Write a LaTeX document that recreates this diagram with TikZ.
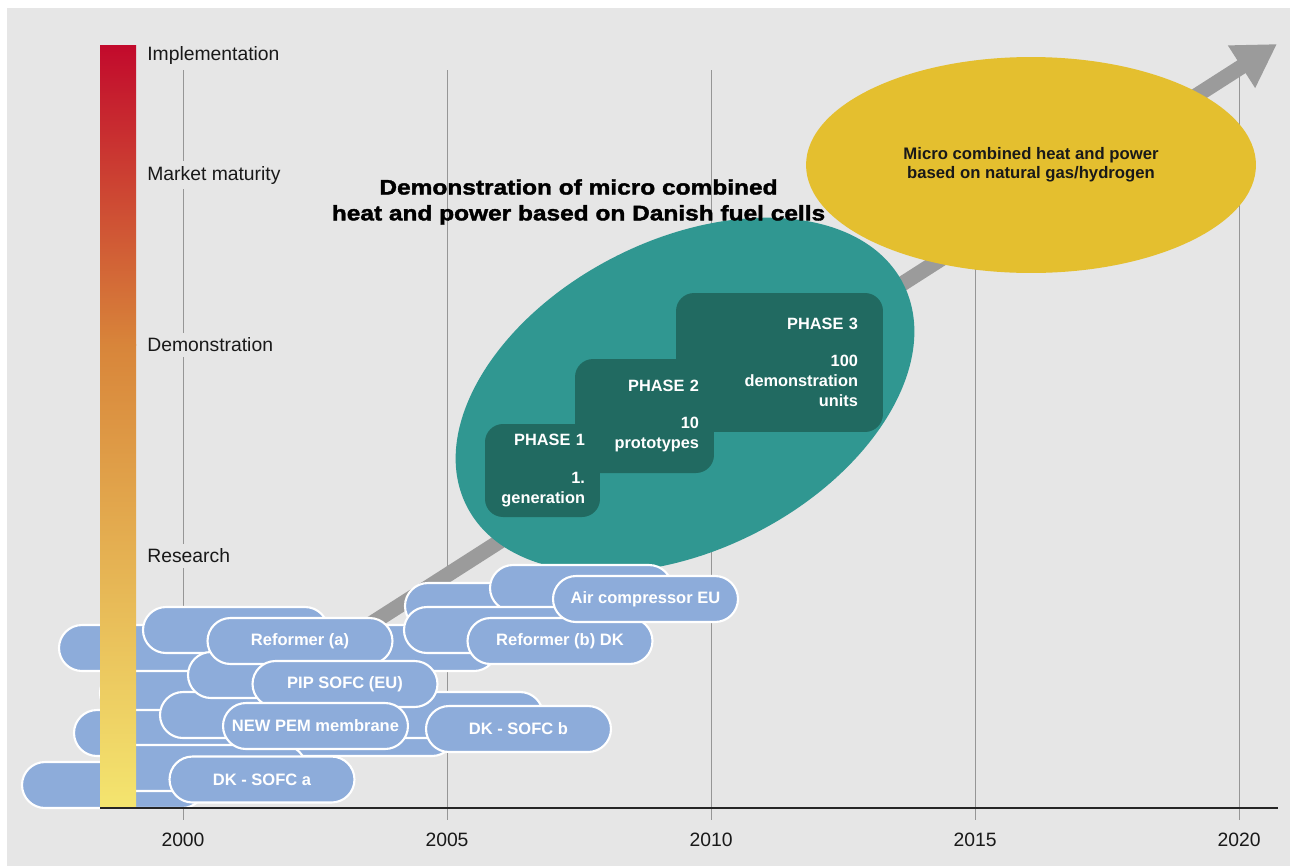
\documentclass[tikz,border=0pt]{standalone}
\usepackage{fontspec}
\setmainfont{Liberation Sans}
\newfontfamily\titlefont[FakeStretch=1.16, FakeBold=1.8]{Liberation Sans}
\usetikzlibrary{shapes.geometric,arrows.meta}

\definecolor{bggrey}{RGB}{230,230,230}
\definecolor{gridgrey}{RGB}{150,150,150}
\definecolor{arrowgrey}{RGB}{155,155,155}
\definecolor{pillblue}{RGB}{141,172,218}
\definecolor{demoteal}{RGB}{48,151,145}
\definecolor{phaseteal}{RGB}{33,106,97}
\definecolor{mchpyellow}{RGB}{228,191,47}
\definecolor{barred}{RGB}{194,10,44}
\definecolor{barrust}{RGB}{201,68,48}
\definecolor{barorange}{RGB}{216,133,58}
\definecolor{barochre}{RGB}{228,176,79}
\definecolor{baryellow}{RGB}{244,229,111}

\tikzset{
    pill/.style={draw=white, line width=1.2pt, fill=pillblue, rounded corners=0.46cm,
        minimum height=0.92cm, minimum width=3.7cm, inner sep=0pt, text=white,
        font=\fontsize{9.4}{11}\selectfont\bfseries},
    phase/.style={fill=phaseteal, rounded corners=0.36cm, text=white, align=right,
        inner ysep=0pt, font=\fontsize{9.3}{11.3}\selectfont\bfseries},
    level/.style={anchor=west, fill=bggrey, inner xsep=0pt, inner ysep=3pt,
        text=black!90, font=\fontsize{11}{13}\selectfont},
}

\begin{document}
\begin{tikzpicture}[x=0.02cm, y=-0.02cm]
    \useasboundingbox (0,0) rectangle (1290,866);
    \fill [white] (0,0) rectangle (1290,866);
    \fill [bggrey] (7,8) rectangle (1290,866);

    \foreach \yr [count=\i from 0] in {2000,2005,2010,2015,2020} {
        \draw [gridgrey, line width=0.5pt] (183+264*\i,70) -- (183+264*\i,820);
        \node [font=\fontsize{11}{13}\selectfont, text=black!90] (year\i) at (183+264*\i,840) {\yr};
    }

    \draw [arrowgrey, line width=8.6pt, -{Triangle[length=24pt,width=27pt]}] (330,650) -- (1277,44);

    \node [ellipse, fill=demoteal, minimum width=9.8cm, minimum height=6.2cm, rotate=27] (demo) at (685,395) {};
    \node [phase, text width=3.14cm, inner xsep=0.5cm, minimum height=2.78cm] (phase3) at (779.5,362.5)
        {PHASE 3\\[10pt]100\\demonstration\\units};
    \node [phase, text width=2.18cm, inner xsep=0.3cm, minimum height=2.28cm] (phase2) at (644.5,416)
        {PHASE 2\\[10pt]10\\prototypes};
    \node [phase, text width=1.7cm, inner xsep=0.3cm, minimum height=1.86cm] (phase1) at (542.5,470.5)
        {PHASE 1\\[10pt]1.\\generation};

    \node [ellipse, fill=mchpyellow, minimum width=9cm, minimum height=4.32cm, inner sep=0pt,
        align=center, text=black!90, font=\fontsize{9.5}{10.8}\selectfont\bfseries] (mchp) at (1031,165)
        {Micro combined heat and power\\based on natural gas/hydrogen};

    \node [align=center, font=\titlefont\bfseries\fontsize{12}{14.7}\selectfont] (title) at (578.5,202)
        {Demonstration of micro combined\\heat and power based on Danish fuel cells};

    % projects behind the labelled ones
    \foreach \cx/\cy/\w in {113.5/785/183, 200/693/200, 264.5/733/381, 205.5/768/201,
        351.5/715/383, 278/648/438, 235.5/630/185, 280.5/675/185,
        497.5/606/185, 581/588/182, 496.5/630/185}
        \node [pill, minimum width=\w*0.02cm] at (\cx,\cy) {};

    \node [pill] (reformera) at (300,641) {Reformer (a)};
    \node [pill] (pipsofc) at (345,684) {PIP SOFC (EU)};
    \node [pill] (pem) at (315.5,726) {NEW PEM membrane};
    \node [pill] (sofca) at (262,779.5) {DK - SOFC a};
    \node [pill] (reformerb) at (560,641) {Reformer (b) DK};
    \node [pill] (aircomp) at (645.5,599) {Air compressor EU};
    \node [pill] (sofcb) at (518.5,729) {DK - SOFC b};

    \shade [top color=barred, middle color=barrust, bottom color=barorange] (100,45) rectangle (136,345);
    \shade [top color=barorange, middle color=barochre, bottom color=baryellow] (100,344.5) rectangle (136,808);
    \draw [black!85, line width=1.6pt] (100,808) -- (1278,808);

    \node [level] (impl) at (147,55) {Implementation};
    \node [level] (market) at (147,175) {Market maturity};
    \node [level] (demolevel) at (147,345) {Demonstration};
    \node [level] (research) at (147,556) {Research};
\end{tikzpicture}
\end{document}
